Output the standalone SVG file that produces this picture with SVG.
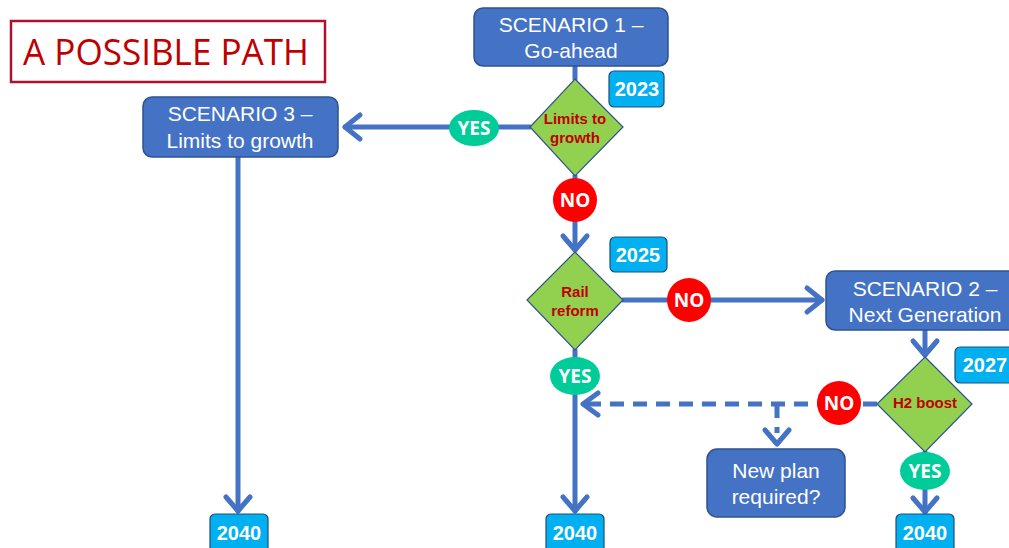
<svg xmlns="http://www.w3.org/2000/svg" width="1009" height="548" viewBox="0 0 1009 548">
<style>
.box{fill:#4472C4;stroke:#2F528F;stroke-width:1.5}
.bt{font-family:"Liberation Sans",Arial,sans-serif;font-size:21px;fill:#fff;text-anchor:middle}
.badge{fill:#00B0F0;stroke:#1F4E79;stroke-width:1.2}
.yt{font-family:"Liberation Sans",Arial,sans-serif;font-size:20px;font-weight:bold;fill:#fff;text-anchor:middle}
.dia{fill:#92D050;stroke:#2F528F;stroke-width:1.2}
.dt{font-family:"Liberation Sans",Arial,sans-serif;font-size:15px;font-weight:bold;fill:#C00000;text-anchor:middle}
.yes{fill:#00CC99}
.no{fill:#FF0000}
.lt{font-family:"Open Sans","Liberation Sans",sans-serif;font-size:19px;font-weight:bold;fill:#fff;text-anchor:middle}
.c{fill:none;stroke:#4472C4;stroke-width:5;stroke-linecap:round;stroke-linejoin:round}
.d{stroke-dasharray:14,9;stroke-linecap:butt}
</style>
<g id="title">
<rect x="11" y="21" width="314" height="61" fill="#fff" stroke="#B0102E" stroke-width="2.5"/>
<text x="166" y="65" font-family="'Open Sans','Liberation Sans',sans-serif" font-size="36" fill="#C00000" text-anchor="middle" textLength="286" lengthAdjust="spacingAndGlyphs">A POSSIBLE PATH</text>
</g>
<g id="connectors">
<path class="c" d="M575,66 V79"/>
<path class="c" d="M530,127 H345"/>
<path class="c" d="M360,115 L345,127 L360,139"/>
<path class="c" d="M238,157 V511"/>
<path class="c" d="M226,497 L238,511 L250,497"/>
<path class="c" d="M575,176 V250"/>
<path class="c" d="M563,236 L575,250 L587,236"/>
<path class="c" d="M623,300 H822"/>
<path class="c" d="M807,288 L822,300 L807,312"/>
<path class="c" d="M925,330 V355"/>
<path class="c" d="M913,341 L925,355 L937,341"/>
<path class="c" d="M575,350 V511"/>
<path class="c" d="M563,497 L575,511 L587,497"/>
<path class="c d" d="M877,404 H583"/>
<path class="c" d="M598,393 L583,404 L598,415"/>
<path class="c d" d="M777,404 V433"/>
<path class="c" d="M765,430 L777,444 L789,430"/>
<path class="c" d="M925,452 V512"/>
<path class="c" d="M913,498 L925,512 L937,498"/>
</g>
<g id="scenario1">
<rect class="box" x="474" y="8" width="194" height="58" rx="9"/>
<text class="bt" x="571" y="32">SCENARIO 1 –</text>
<text class="bt" x="571" y="58">Go-ahead</text>
</g>
<g id="badge2023">
<rect class="badge" x="609" y="71" width="55" height="36" rx="5"/>
<text class="yt" x="637" y="96">2023</text>
</g>
<g id="decision1">
<polygon class="dia" points="575,79 623,127 575,176 530,127"/>
<text class="dt" x="575" y="124">Limits to</text>
<text class="dt" x="575" y="143">growth</text>
</g>
<g id="yes1">
<ellipse class="yes" cx="474" cy="128" rx="25" ry="18"/>
<text class="lt" x="474" y="135">YES</text>
</g>
<g id="scenario3">
<rect class="box" x="143" y="97" width="195" height="60" rx="9"/>
<text class="bt" x="240" y="121">SCENARIO 3 –</text>
<text class="bt" x="240" y="148">Limits to growth</text>
</g>
<g id="no1">
<circle class="no" cx="575" cy="200" r="22"/>
<text class="lt" x="575" y="207">NO</text>
</g>
<g id="badge2025">
<rect class="badge" x="610" y="237" width="57" height="35" rx="5"/>
<text class="yt" x="638" y="262">2025</text>
</g>
<g id="decision2">
<polygon class="dia" points="575,252 623,300 575,350 527,300"/>
<text class="dt" x="575" y="297">Rail</text>
<text class="dt" x="575" y="316">reform</text>
</g>
<g id="no2">
<circle class="no" cx="689" cy="300" r="22"/>
<text class="lt" x="689" y="307">NO</text>
</g>
<g id="scenario2">
<rect class="box" x="826" y="271" width="196" height="59" rx="9"/>
<text class="bt" x="925" y="296">SCENARIO 2 –</text>
<text class="bt" x="925" y="322">Next Generation</text>
</g>
<g id="badge2027">
<rect class="badge" x="955" y="347" width="60" height="36" rx="5"/>
<text class="yt" x="985" y="372">2027</text>
</g>
<g id="decision3">
<polygon class="dia" points="925,357 972,404 925,452 877,404"/>
<text class="dt" x="925" y="408">H2 boost</text>
</g>
<g id="no3">
<circle class="no" cx="839" cy="403" r="22"/>
<text class="lt" x="839" y="410">NO</text>
</g>
<g id="yes2">
<ellipse class="yes" cx="575" cy="376" rx="25" ry="19"/>
<text class="lt" x="575" y="383">YES</text>
</g>
<g id="newplan">
<rect class="box" x="707" y="449" width="138" height="68" rx="10"/>
<text class="bt" x="776" y="478">New plan</text>
<text class="bt" x="776" y="504">required?</text>
</g>
<g id="yes3">
<ellipse class="yes" cx="925" cy="471" rx="25" ry="19"/>
<text class="lt" x="925" y="478">YES</text>
</g>
<g id="end1">
<rect class="badge" x="210" y="514" width="58" height="40" rx="5"/>
<text class="yt" x="239" y="540">2040</text>
</g>
<g id="end2">
<rect class="badge" x="546" y="514" width="58" height="40" rx="5"/>
<text class="yt" x="575" y="540">2040</text>
</g>
<g id="end3">
<rect class="badge" x="896" y="514" width="58" height="40" rx="5"/>
<text class="yt" x="925" y="540">2040</text>
</g>
</svg>
